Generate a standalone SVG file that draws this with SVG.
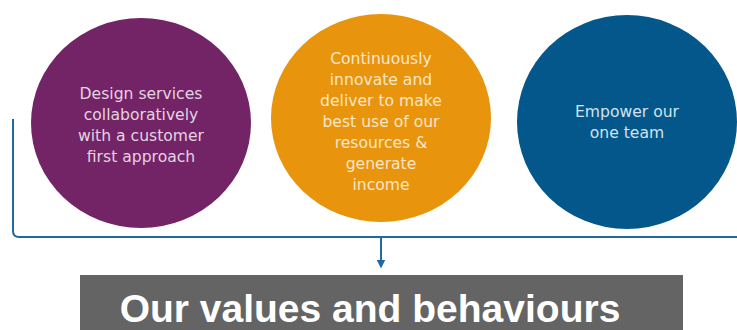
<svg xmlns="http://www.w3.org/2000/svg" width="737" height="330" viewBox="0 0 737 330">
<style>
.ct{font-family:"DejaVu Sans","Liberation Sans",sans-serif;font-size:15.6px;text-anchor:middle}
.conn{fill:none;stroke:#2468a2;stroke-width:2}
</style>
<defs>
<marker id="ah" viewBox="0 0 10 10" refX="5" refY="5" markerWidth="4.5" markerHeight="4.5" orient="auto">
<path d="M0,0 L10,5 L0,10 z" fill="#2468a2"/>
</marker>
</defs>
<rect width="737" height="330" fill="#ffffff"/>
<g id="node-design">
<ellipse cx="141" cy="123" rx="110" ry="105" fill="#722466"/>
<text class="ct" fill="#e6d2e2"><tspan x="141" y="99">Design services</tspan><tspan x="141" y="120">collaboratively</tspan><tspan x="141" y="141">with a customer</tspan><tspan x="141" y="162">first approach</tspan></text>
</g>
<g id="node-innovate">
<ellipse cx="381" cy="118" rx="110" ry="104" fill="#e8940c"/>
<text class="ct" fill="#fbe6c8"><tspan x="381" y="64">Continuously</tspan><tspan x="381" y="85">innovate and</tspan><tspan x="381" y="106">deliver to make</tspan><tspan x="381" y="127">best use of our</tspan><tspan x="381" y="148">resources &amp;</tspan><tspan x="381" y="169">generate</tspan><tspan x="381" y="190">income</tspan></text>
</g>
<g id="node-empower">
<ellipse cx="627" cy="122" rx="110" ry="107" fill="#03578a"/>
<text class="ct" fill="#d3e2ee"><tspan x="627" y="117">Empower our</tspan><tspan x="627" y="138">one team</tspan></text>
</g>
<g id="connectors">
<path class="conn" d="M13,119 L13,231 Q13,237 19,237 L737,237"/>
<path class="conn" d="M381,237 L381,264" marker-end="url(#ah)"/>
</g>
<g id="node-values">
<rect x="80" y="275" width="603" height="60" fill="#646464"/>
<text x="370" y="322" font-family="Liberation Sans,Arial,sans-serif" font-size="39" font-weight="bold" fill="#ffffff" text-anchor="middle">Our values and behaviours</text>
</g>
</svg>
